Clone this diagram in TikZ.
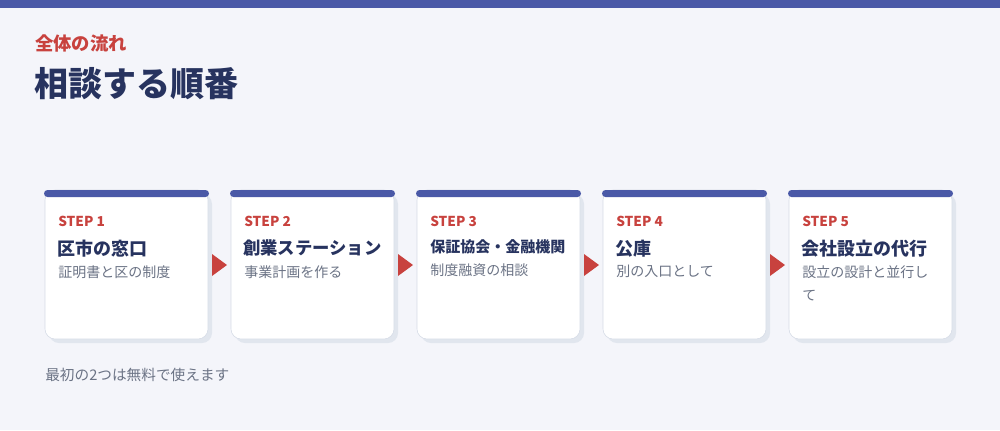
\documentclass[tikz,border=0pt]{standalone}
\usepackage{fontspec}
\setmainfont{Noto Sans CJK JP}
\usetikzlibrary{shadows}
\definecolor{pagebg}{HTML}{F4F5FA}
\definecolor{barblue}{HTML}{4A59A7}
\definecolor{stepred}{HTML}{C8423E}
\definecolor{navy}{HTML}{27335F}
\definecolor{greytxt}{HTML}{6B7385}
\definecolor{cardline}{HTML}{D5DBE6}
\definecolor{shadowgrey}{HTML}{E1E6EE}
\tikzset{
  cardbox/.style={draw=cardline, fill=white, rounded corners=7.5pt, inner sep=0,
    minimum width=122.25pt, minimum height=111.75pt,
    drop shadow={shadow xshift=3pt, shadow yshift=-3pt, fill=shadowgrey, opacity=1}},
  topbar/.style={fill=barblue, rounded corners=2.6pt},
  steptxt/.style={anchor=west, inner sep=0, text=stepred, font=\bfseries\fontsize{10.25pt}{12pt}\selectfont},
  nametxt/.style={anchor=west, inner sep=0, text=navy, font=\bfseries\fontsize{13.5pt}{15pt}\selectfont},
  notetxt/.style={anchor=north west, inner sep=0, text=greytxt, align=left, font=\fontsize{10.5pt}{17.25pt}\selectfont},
  nextarrow/.style={fill=stepred}
}
\begin{document}
\begin{tikzpicture}[x=0.75pt,y=-0.75pt]
\useasboundingbox (0,0) rectangle (1000,430);
\fill[pagebg] (0,0) rectangle (1000,430);
\fill[barblue] (0,0) rectangle (1000,8);
% heading
\node[anchor=west, inner sep=0, text=stepred, font=\bfseries\fontsize{13.75pt}{15pt}\selectfont] (kicker) at (35,43) {全体の流れ};
\node[anchor=west, inner sep=0, text=navy, font=\bfseries\fontsize{25.5pt}{28pt}\selectfont] (heading) at (34,84) {相談する順番};
% cards
\node[cardbox] (card1) at (126.5,264.5) {};
\node[cardbox] (card2) at (312.5,264.5) {};
\node[cardbox] (card3) at (498.5,264.5) {};
\node[cardbox] (card4) at (684.5,264.5) {};
\node[cardbox] (card5) at (870.5,264.5) {};
\fill[topbar] (44,190) rectangle (209,197);
\fill[topbar] (230,190) rectangle (395,197);
\fill[topbar] (416,190) rectangle (581,197);
\fill[topbar] (602,190) rectangle (767,197);
\fill[topbar] (788,190) rectangle (953,197);
% arrows between cards
\fill[nextarrow] (212,254) -- (227,265) -- (212,276) -- cycle;
\fill[nextarrow] (398,254) -- (413,265) -- (398,276) -- cycle;
\fill[nextarrow] (584,254) -- (599,265) -- (584,276) -- cycle;
\fill[nextarrow] (770,254) -- (785,265) -- (770,276) -- cycle;
% texts
\node[steptxt] (step1) at (58,221) {STEP 1};
\node[steptxt] (step2) at (244,221) {STEP 2};
\node[steptxt] (step3) at (430,221) {STEP 3};
\node[steptxt] (step4) at (616,221) {STEP 4};
\node[steptxt] (step5) at (802,221) {STEP 5};
\node[nametxt] (name1) at (57,249) {区市の窓口};
\node[nametxt, font=\bfseries\fontsize{13pt}{15pt}\selectfont] (name2) at (243,248) {創業ステーション};
\node[nametxt, font=\bfseries\fontsize{11.25pt}{13pt}\selectfont] (name3) at (430,247) {保証協会・金融機関};
\node[nametxt] (name4) at (615,249) {公庫};
\node[nametxt] (name5) at (801,249) {会社設立の代行};
\node[notetxt] (note1) at (58,265) {証明書と区の制度};
\node[notetxt] (note2) at (244,265) {事業計画を作る};
\node[notetxt] (note3) at (430,263) {制度融資の相談};
\node[notetxt] (note4) at (616,265) {別の入口として};
\node[notetxt] (note5) at (802,265) {設立の設計と並行し\\て};
% footnote
\node[anchor=west, inner sep=0, text=greytxt, font=\fontsize{11pt}{13pt}\selectfont] (footer) at (45,375) {最初の2つは無料で使えます};
\end{tikzpicture}
\end{document}
